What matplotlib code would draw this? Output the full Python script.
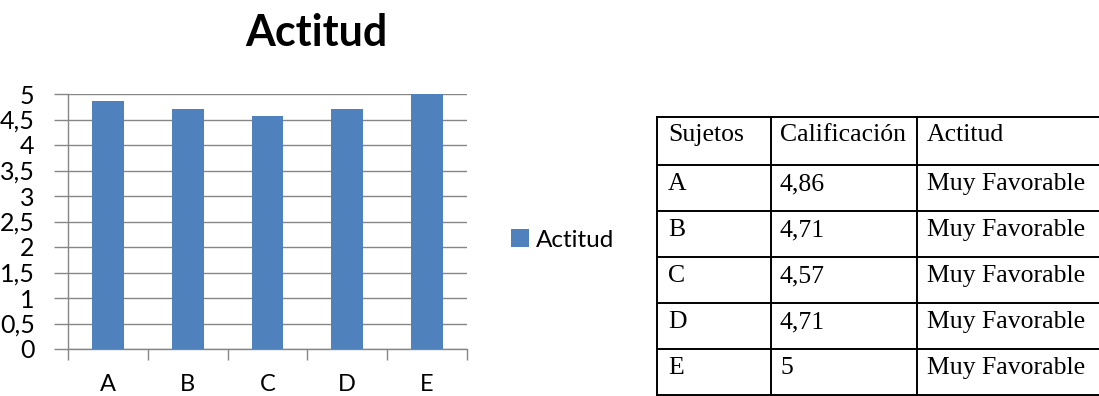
import matplotlib
matplotlib.use("Agg")
import matplotlib.pyplot as plt
from matplotlib.lines import Line2D
from matplotlib.patches import Patch

# Data
sujetos = ["A", "B", "C", "D", "E"]
calificacion = [4.86, 4.71, 4.57, 4.71, 5.0]
calificacion_txt = ["4,86", "4,71", "4,57", "4,71", "5"]
actitud = ["Muy Favorable"] * 5
encabezados = ["Sujetos", "Calificación", "Actitud"]
y_ticks = [0, 0.5, 1, 1.5, 2, 2.5, 3, 3.5, 4, 4.5, 5]
y_tick_labels = ["0", "0,5", "1", "1,5", "2", "2,5", "3", "3,5", "4", "4,5", "5"]
serie = "Actitud"

W, H = 1099, 396
BAR = "#4F81BD"
GRID = "#868686"
SANS = ["Lato", "DejaVu Sans"]
SERIF = ["Liberation Serif", "DejaVu Serif"]

fig = plt.figure(figsize=(W / 100, H / 100), dpi=100)
fig.patch.set_facecolor("white")

def px_axes(x0, y0, x1, y1):
    return fig.add_axes([x0 / W, 1 - y1 / H, (x1 - x0) / W, (y1 - y0) / H])

# Bar chart
ax = px_axes(68, 94, 467, 349)
x = list(range(len(sujetos)))
ax.bar(x, calificacion, width=0.4, color=BAR, zorder=3, label=serie)
ax.set_xlim(-0.5, len(sujetos) - 0.5)
ax.set_ylim(0, 5)
ax.set_yticks(y_ticks)
ax.set_yticklabels(y_tick_labels, family=SANS, fontsize=18)
ax.yaxis.grid(True, color=GRID, linewidth=1.0, zorder=0)
ax.tick_params(axis="y", length=10, width=1.0, color=GRID, pad=14)
ax.set_xticks(x)
ax.set_xticklabels(sujetos, family=SANS, fontsize=17)
ax.set_xticks([i - 0.5 for i in range(len(sujetos) + 1)], minor=True)
ax.tick_params(axis="x", which="major", length=0, pad=18)
ax.tick_params(axis="x", which="minor", length=8, width=1.0, color=GRID)
for side in ("top", "right"):
    ax.spines[side].set_visible(False)
for side in ("left", "bottom"):
    ax.spines[side].set_color(GRID)
    ax.spines[side].set_linewidth(1.0)
ax.set_facecolor("white")

fig.text(316 / W, 1 - 33 / H, "Actitud", ha="center", va="center",
         family=SANS, fontsize=31, fontweight="bold")

# Legend
fig.legend(handles=[Patch(facecolor=BAR, edgecolor="none", label=serie)],
           loc="center left", bbox_to_anchor=(489 / W, 1 - 240 / H),
           frameon=False, prop={"family": SANS, "size": 17.5},
           handlelength=0.75, handleheight=0.75, handletextpad=0.3)

# Table
tab = fig.add_axes([0, 0, 1, 1])
tab.set_xlim(0, W)
tab.set_ylim(H, 0)
tab.axis("off")
col_edges = [657, 771, 917, 1112]
row_edges = [117, 165, 211, 257, 303, 349, 395]
lw = 1.4
for cx in col_edges:
    tab.add_line(Line2D([cx, cx], [row_edges[0], row_edges[-1] + 2], color="black", lw=lw))
for ry in row_edges:
    tab.add_line(Line2D([col_edges[0], col_edges[-1]], [ry, ry], color="black", lw=lw))

rows = [encabezados] + [[s, c, a] for s, c, a in zip(sujetos, calificacion_txt, actitud)]
pads = [11, 9, 10]
for r, fila in enumerate(rows):
    base = row_edges[r] + (24 if r == 0 else 25)
    for c, txt in enumerate(fila):
        tab.text(col_edges[c] + pads[c], base, txt, ha="left", va="baseline",
                 family=SERIF, fontsize=18.5, color="black")

fig.savefig("out.png", dpi=100, facecolor="white")
